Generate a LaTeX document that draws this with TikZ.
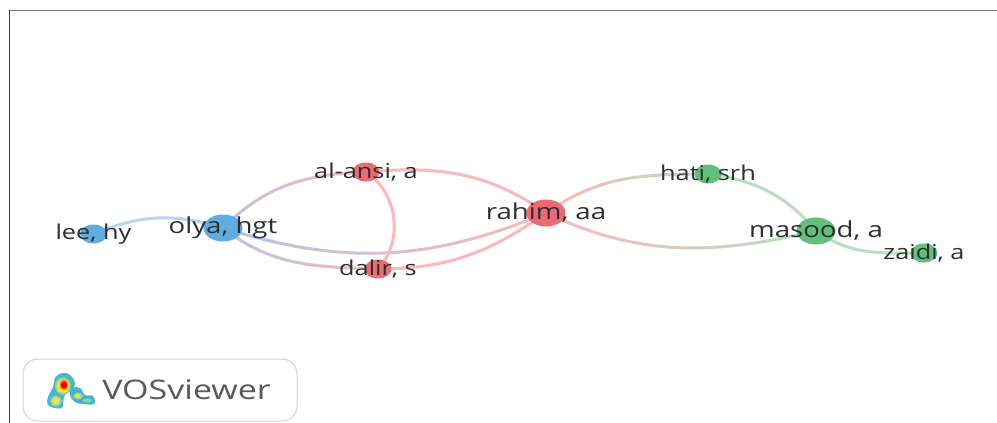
\documentclass[tikz,border=0pt]{standalone}
\usepackage{fontspec}
\setmainfont{Open Sans}
\usetikzlibrary{shapes.geometric}

\definecolor{BlueNode}{HTML}{62ADE0}
\definecolor{RedNode}{HTML}{EC6B72}
\definecolor{GreenNode}{HTML}{63C07C}
\definecolor{BlueEdge}{HTML}{B4D8F2}
\definecolor{RedEdge}{HTML}{FBB9B9}
\definecolor{GreenEdge}{HTML}{B5E2BC}
\definecolor{VioletEdge}{HTML}{B9C4E6}
\definecolor{LabelText}{HTML}{2B2F33}
\definecolor{LogoTeal}{HTML}{45B5D0}
\definecolor{LogoGreen}{HTML}{8ED29A}
\definecolor{LogoYellow}{HTML}{E8E25A}

\tikzset{
  bigauthor/.style={ellipse,inner sep=0pt,minimum width=39pt,minimum height=27pt},
  smallauthor/.style={ellipse,inner sep=0pt,minimum width=27pt,minimum height=19pt},
  bigname/.style={font=\fontsize{22}{24}\selectfont,text=LabelText,inner sep=0pt,xscale=1.255,transform shape},
  smallname/.style={font=\fontsize{20.5}{24}\selectfont,text=LabelText,inner sep=0pt,xscale=1.235,transform shape},
}

% one link, cut in short pieces so that its colour can run from one end to the other
\newcommand{\authorlink}[5]{%
  \foreach \i [remember=\i as \j (initially 0)] in {1,...,24} {
    \pgfmathsetmacro{\share}{100*(1-(\i-0.5)/24)}
    \path (#1) to[#3] coordinate[pos=\j/24] (from) coordinate[pos=\i/24] (till) (#2);
    \draw[line width=3pt,line cap=round,color=#5!\share!#4] (till) -- (from);
  }
}

\begin{document}
\begin{tikzpicture}[x=1pt,y=-1pt]
  \useasboundingbox (0,0) rectangle (997,423);
  \fill[white] (0,0) rectangle (997,423);
  \draw[line width=1pt,color=black!55] (9,10.5) -- (997,10.5);
  \draw[line width=1.2pt,color=black!75] (9.5,10) -- (9.5,423);

  \coordinate (lee) at (93.5,234);
  \coordinate (olya) at (223,228);
  \coordinate (alansi) at (366,172);
  \coordinate (dalir) at (378,269);
  \coordinate (rahim) at (546,213);
  \coordinate (hati) at (708,174);
  \coordinate (masood) at (816,231);
  \coordinate (zaidi) at (924,253);

  % links
  \authorlink{lee}{olya}{bend left=20}{BlueEdge}{BlueEdge}
  \authorlink{olya}{alansi}{out=45,in=182}{RedEdge}{VioletEdge}
  \authorlink{olya}{dalir}{out=-38,in=178}{RedEdge}{VioletEdge}
  \authorlink{olya}{rahim}{bend right=20}{RedEdge}{VioletEdge}
  \authorlink{alansi}{dalir}{bend left=50}{RedEdge}{RedEdge}
  \authorlink{alansi}{rahim}{out=5,in=145}{RedEdge}{RedEdge}
  \authorlink{dalir}{rahim}{out=0,in=215}{RedEdge}{RedEdge}
  \authorlink{rahim}{hati}{out=35,in=180}{GreenEdge}{RedEdge}
  \authorlink{rahim}{masood}{out=-25,in=193}{GreenEdge}{RedEdge}
  \authorlink{hati}{masood}{out=-8,in=130}{GreenEdge}{GreenEdge}
  \authorlink{masood}{zaidi}{out=-35,in=180}{GreenEdge}{GreenEdge}

  % authors
  \node[smallauthor,fill=BlueNode,label={[smallname]center:lee, hy}] (leenode) at (lee) {};
  \node[bigauthor,fill=BlueNode,label={[bigname]center:olya, hgt}] (olyanode) at (olya) {};
  \node[smallauthor,fill=RedNode,label={[smallname]center:al-ansi, a}] (alansinode) at (alansi) {};
  \node[smallauthor,fill=RedNode,label={[smallname]center:dalir, s}] (dalirnode) at (dalir) {};
  \node[bigauthor,fill=RedNode,label={[bigname]center:rahim, aa}] (rahimnode) at (rahim) {};
  \node[smallauthor,fill=GreenNode,label={[smallname]center:hati, srh}] (hatinode) at (hati) {};
  \node[bigauthor,fill=GreenNode,label={[bigname]center:masood, a}] (masoodnode) at (masood) {};
  \node[smallauthor,fill=GreenNode,label={[smallname]center:zaidi, a}] (zaidinode) at (zaidi) {};

  % logo
  \node[draw=black!17,line width=1pt,rounded corners=15pt,minimum width=274pt,minimum height=62pt,inner sep=0pt] (logobox) at (160,390) {};
  \node[font=\fontsize{27}{30}\selectfont,text=black!65,inner sep=0pt,anchor=west,xscale=1.26,transform shape] (logotext) at (102,390) {VOSviewer};
  \fill[color=LogoTeal] plot[smooth cycle,tension=0.7] coordinates {(62,373) (70,375) (75,383) (72,390) (65,395) (63,403) (62,408) (55,408) (48,405) (48,397) (53,387) (55,378)};
  \fill[color=LogoTeal] plot[smooth cycle,tension=0.7] coordinates {(72,388) (80,388) (85,395) (93,396) (94,404) (83,404) (75,402) (70,395)};
  \fill[color=LogoGreen] (63,386) ellipse (8pt and 9pt);
  \fill[color=LogoGreen] (56,401) ellipse (6pt and 5.5pt);
  \fill[color=LogoGreen] (78,396) ellipse (5pt and 3.5pt);
  \fill[color=LogoGreen] (87,400.5) ellipse (5pt and 2pt);
  \fill[color=LogoYellow] (63,386) ellipse (6.5pt and 7pt);
  \fill[color=LogoYellow] (56,401) ellipse (4pt and 4pt);
  \fill[color=LogoYellow] (78,396) ellipse (3pt and 2pt);
  \fill[color=orange] (64,385) ellipse (4.5pt and 5.5pt);
  \fill[color=red!85!black] (64,385) ellipse (3pt and 3.5pt);
\end{tikzpicture}
\end{document}
